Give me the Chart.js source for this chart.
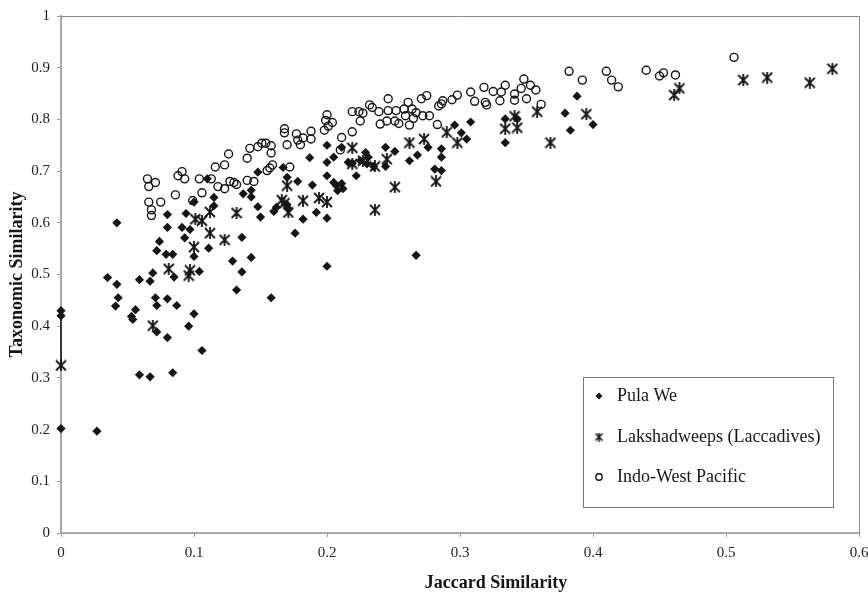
<!DOCTYPE html>
<html><head><meta charset="utf-8">
<script src="https://cdn.jsdelivr.net/npm/chart.js@4.4.0/dist/chart.umd.min.js"></script>
<style>html,body{margin:0;padding:0;background:#fff;}#wrap{width:868px;height:598px;position:relative;}</style>
</head><body><div id="wrap"><canvas id="c" width="868" height="598"></canvas></div>
<script>
const seriesNames = ['Pula We', 'Lakshadweeps (Laccadives)', 'Indo-West Pacific'];
const xTickValues = [0, 0.1, 0.2, 0.3, 0.4, 0.5, 0.6];
const xTickLabels = ['0', '0.1', '0.2', '0.3', '0.4', '0.5', '0.6'];
const yTickValues = [0, 0.1, 0.2, 0.3, 0.4, 0.5, 0.6, 0.7, 0.8, 0.9, 1];
const yTickLabels = ['0', '0.1', '0.2', '0.3', '0.4', '0.5', '0.6', '0.7', '0.8', '0.9', '1'];
const xTitle = 'Jaccard Similarity';
const yTitle = 'Taxonomic Similarity';

const pulaWe = [
[0,0.43],[0,0.42],[0,0.202],[0.027,0.197],[0.035,0.494],[0.042,0.481],[0.042,0.600],[0.041,0.439],
[0.043,0.455],[0.053,0.419],[0.054,0.413],[0.056,0.432],[0.059,0.490],[0.059,0.306],[0.067,0.487],
[0.067,0.302],[0.069,0.503],[0.071,0.455],[0.072,0.440],[0.072,0.389],[0.072,0.546],[0.074,0.564],
[0.079,0.539],[0.084,0.539],[0.080,0.591],[0.080,0.616],[0.080,0.453],[0.080,0.378],[0.084,0.310],
[0.085,0.495],[0.087,0.440],[0.091,0.591],[0.093,0.571],[0.094,0.618],[0.097,0.587],[0.096,0.400],
[0.100,0.424],[0.100,0.535],[0.100,0.640],[0.104,0.506],[0.106,0.353],[0.110,0.685],[0.111,0.551],
[0.115,0.649],[0.115,0.633],[0.129,0.526],[0.132,0.470],[0.136,0.572],[0.136,0.505],[0.137,0.656],
[0.143,0.663],[0.143,0.650],[0.143,0.533],[0.148,0.698],[0.148,0.631],[0.150,0.611],[0.158,0.455],
[0.160,0.622],[0.162,0.630],[0.167,0.707],[0.170,0.688],[0.170,0.635],[0.171,0.627],[0.176,0.580],
[0.178,0.680],[0.182,0.607],[0.187,0.726],[0.189,0.673],[0.192,0.620],[0.200,0.750],[0.200,0.717],
[0.200,0.691],[0.200,0.609],[0.200,0.516],[0.205,0.727],[0.211,0.746],[0.205,0.678],[0.207,0.672],
[0.211,0.676],[0.208,0.662],[0.212,0.666],[0.216,0.717],[0.219,0.715],[0.222,0.691],[0.225,0.720],
[0.229,0.736],[0.231,0.727],[0.230,0.714],[0.235,0.709],[0.244,0.746],[0.251,0.738],[0.244,0.709],
[0.262,0.720],[0.268,0.731],[0.276,0.746],[0.286,0.743],[0.286,0.727],[0.281,0.704],[0.286,0.701],
[0.267,0.537],[0.296,0.789],[0.301,0.774],[0.305,0.762],[0.308,0.795],[0.334,0.801],[0.334,0.755],
[0.343,0.801],[0.379,0.812],[0.388,0.845],[0.383,0.779],[0.400,0.790]
];
const lakshadweeps = [
[0,0.324],[0.069,0.401],[0.081,0.511],[0.096,0.498],[0.097,0.508],[0.100,0.553],[0.101,0.607],
[0.106,0.604],[0.112,0.621],[0.112,0.580],[0.123,0.567],[0.132,0.619],[0.166,0.644],[0.168,0.638],
[0.171,0.620],[0.170,0.672],[0.182,0.643],[0.194,0.648],[0.200,0.640],[0.219,0.745],[0.219,0.714],
[0.227,0.720],[0.236,0.709],[0.236,0.625],[0.245,0.723],[0.251,0.669],[0.262,0.755],[0.273,0.762],
[0.282,0.680],[0.290,0.775],[0.298,0.755],[0.334,0.782],[0.341,0.806],[0.343,0.784],[0.358,0.815],
[0.368,0.755],[0.395,0.810],[0.461,0.847],[0.465,0.860],[0.513,0.876],[0.531,0.881],[0.563,0.871],
[0.580,0.898]
];
const indoWestPacific = [
[0.065,0.685],[0.066,0.670],[0.071,0.678],[0.066,0.640],[0.068,0.625],[0.068,0.614],[0.075,0.640],
[0.086,0.654],[0.088,0.691],[0.091,0.699],[0.093,0.685],[0.099,0.643],[0.104,0.685],[0.106,0.658],
[0.113,0.685],[0.116,0.708],[0.118,0.670],[0.123,0.666],[0.123,0.712],[0.126,0.733],[0.127,0.680],
[0.130,0.678],[0.132,0.674],[0.140,0.725],[0.142,0.744],[0.140,0.682],[0.145,0.680],[0.148,0.747],
[0.151,0.754],[0.154,0.754],[0.158,0.749],[0.158,0.735],[0.155,0.701],[0.157,0.706],[0.159,0.712],
[0.168,0.782],[0.168,0.774],[0.170,0.751],[0.172,0.708],[0.177,0.772],[0.178,0.760],[0.180,0.751],
[0.182,0.764],[0.188,0.777],[0.188,0.762],[0.200,0.809],[0.199,0.798],[0.204,0.794],[0.201,0.787],
[0.198,0.779],[0.210,0.741],[0.211,0.765],[0.219,0.776],[0.219,0.815],[0.224,0.815],[0.227,0.812],
[0.225,0.797],[0.232,0.828],[0.234,0.823],[0.239,0.815],[0.240,0.791],[0.246,0.840],[0.246,0.817],
[0.252,0.817],[0.258,0.820],[0.261,0.833],[0.245,0.797],[0.251,0.797],[0.254,0.792],[0.262,0.789],
[0.259,0.807],[0.264,0.820],[0.267,0.813],[0.265,0.802],[0.272,0.807],[0.271,0.840],[0.275,0.846],
[0.277,0.807],[0.284,0.826],[0.286,0.830],[0.287,0.836],[0.283,0.790],[0.294,0.838],[0.298,0.847],
[0.308,0.853],[0.311,0.835],[0.318,0.862],[0.319,0.833],[0.320,0.828],[0.325,0.854],[0.330,0.836],
[0.331,0.853],[0.334,0.866],[0.341,0.849],[0.341,0.837],[0.346,0.860],[0.348,0.878],[0.350,0.840],
[0.353,0.866],[0.357,0.857],[0.361,0.829],[0.382,0.893],[0.392,0.876],[0.410,0.893],[0.414,0.876],
[0.419,0.863],[0.440,0.895],[0.450,0.884],[0.453,0.890],[0.462,0.886],[0.506,0.920]
];

const toPts = a => a.map(p => ({x: p[0], y: p[1]}));
const SERIF = "'Liberation Serif', 'Times New Roman', serif";
const INK = '#151515';

function makeStar(size, lw) {
  const c = document.createElement('canvas');
  c.width = size; c.height = size;
  const g = c.getContext('2d');
  g.strokeStyle = INK; g.lineWidth = lw; g.lineCap = 'butt';
  const a = 1, b = size - 1, m = size / 2;
  g.beginPath();
  g.moveTo(a, a); g.lineTo(b, b);
  g.moveTo(b, a); g.lineTo(a, b);
  g.moveTo(m, 0); g.lineTo(m, size);
  g.stroke();
  return c;
}
const starImg = makeStar(12, 1.8);
const starSmall = makeStar(9, 1.6);

const framePlugin = {
  id: 'frame',
  beforeDatasetsDraw(chart) {
    const {ctx, chartArea: ca} = chart;
    ctx.save();
    ctx.strokeStyle = '#8a8a8a'; ctx.lineWidth = 1;
    ctx.beginPath();
    ctx.moveTo(ca.left, ca.top + 0.5); ctx.lineTo(ca.right + 0.5, ca.top + 0.5);
    ctx.lineTo(ca.right + 0.5, ca.bottom);
    ctx.stroke();
    ctx.restore();
  }
};

const extrasPlugin = {
  id: 'extras',
  afterDraw(chart) {
    const ctx = chart.ctx;
    ctx.save();
    ctx.font = 'bold 18px ' + SERIF;
    ctx.fillStyle = INK; ctx.textAlign = 'center'; ctx.textBaseline = 'middle';
    ctx.fillText(xTitle, 496, 583);
    ctx.fillStyle = '#fff';
    ctx.fillRect(583, 377, 250, 130);
    ctx.strokeStyle = '#777'; ctx.lineWidth = 1;
    ctx.strokeRect(583.5, 377.5, 250, 130);
    const rows = [396, 437, 477];
    const mx = 599, tx = 617;
    ctx.font = '18px ' + SERIF; ctx.textAlign = 'left'; ctx.fillStyle = INK;
    seriesNames.forEach((name, i) => { ctx.fillText(name, tx, rows[i]); });
    ctx.fillStyle = INK;
    ctx.beginPath();
    ctx.moveTo(mx - 3.5, rows[0]); ctx.lineTo(mx, rows[0] - 3.5); ctx.lineTo(mx + 3.5, rows[0]); ctx.lineTo(mx, rows[0] + 3.5);
    ctx.closePath(); ctx.fill();
    ctx.drawImage(starSmall, mx - 4.5, rows[1] - 4.5);
    ctx.strokeStyle = INK; ctx.lineWidth = 1.4;
    ctx.beginPath(); ctx.arc(mx, rows[2], 3.2, 0, Math.PI * 2); ctx.stroke();
    ctx.restore();
  }
};

new Chart(document.getElementById('c'), {
  type: 'scatter',
  data: {
    datasets: [
      {
        label: seriesNames[0], data: toPts(pulaWe),
        pointStyle: 'rectRot', pointRadius: 4.6, pointHoverRadius: 4.6,
        backgroundColor: INK, borderColor: INK, borderWidth: 0, clip: false
      },
      {
        label: seriesNames[1], data: toPts(lakshadweeps),
        pointStyle: starImg, pointRadius: 6, pointHoverRadius: 6,
        backgroundColor: INK, borderColor: INK, clip: false
      },
      {
        label: seriesNames[2], data: toPts(indoWestPacific),
        pointStyle: 'circle', pointRadius: 4, pointHoverRadius: 4,
        backgroundColor: 'rgba(255,255,255,0)', borderColor: INK, borderWidth: 1.4, clip: false
      },
      {
        label: '', type: 'line',
        data: [{x: pulaWe[0][0], y: pulaWe[0][1]}, {x: lakshadweeps[0][0], y: lakshadweeps[0][1]}],
        borderColor: INK, borderWidth: 1.5, pointRadius: 0, showLine: true, fill: false, clip: false
      }
    ]
  },
  options: {
    responsive: false, animation: false,
    layout: {padding: {left: 0, right: 0, top: 15, bottom: 0}},
    plugins: {legend: {display: false}, tooltip: {enabled: false}},
    scales: {
      x: {
        type: 'linear', min: 0, max: 0.6,
        afterBuildTicks: s => { s.ticks = xTickValues.map(v => ({value: v})); },
        afterFit: s => { s.height = 65; s.paddingRight = 9; },
        ticks: {
          callback: (v, i) => xTickLabels[i], autoSkip: false, maxRotation: 0,
          font: {family: SERIF, size: 15}, color: '#222', padding: 7
        },
        grid: {display: true, drawOnChartArea: false, drawTicks: true, tickLength: 4, color: '#999', tickWidth: 1},
        border: {display: true, color: '#a8a8a8', width: 2}
      },
      y: {
        type: 'linear', min: 0, max: 1,
        afterBuildTicks: s => { s.ticks = yTickValues.map(v => ({value: v})); },
        afterFit: s => { s.width = 61; },
        ticks: {
          callback: (v, i) => yTickLabels[i], autoSkip: false,
          font: {family: SERIF, size: 15}, color: '#222', padding: 7
        },
        grid: {display: true, drawOnChartArea: false, drawTicks: true, tickLength: 4, color: '#999', tickWidth: 1},
        border: {display: true, color: '#a8a8a8', width: 2},
        title: {
          display: true, text: yTitle, color: INK,
          font: {family: SERIF, size: 18, weight: 'bold'}, padding: {top: 7, bottom: 0}
        }
      }
    }
  },
  plugins: [framePlugin, extrasPlugin]
});
</script></body></html>
